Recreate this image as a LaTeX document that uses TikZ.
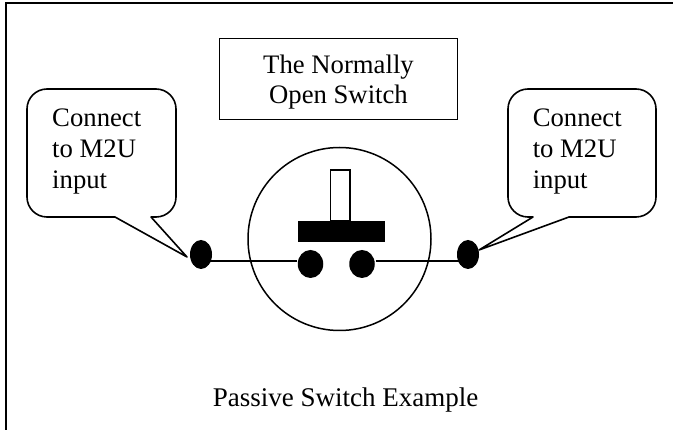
\documentclass[tikz,border=0pt]{standalone}
\usepackage{fontspec}
\setmainfont{Liberation Serif}
\usetikzlibrary{positioning,shapes.geometric}
\begin{document}
\begin{tikzpicture}[x=1pt, y=-1pt, line width=1.5pt,
titlenode/.style={rectangle, draw=black, line width=1.6pt, minimum width=238pt, minimum height=81pt},
titletext/.style={align=center, inner sep=0pt, font=\fontsize{26.7}{30.5}\selectfont},
textnode/.style={align=left, anchor=west, inner sep=0pt, font=\fontsize{26.7}{31}\selectfont},
contactnode/.style={ellipse, fill=black, inner sep=0pt, minimum width=25.5pt, minimum height=28pt},
dotnode/.style={ellipse, fill=black, inner sep=0pt, minimum width=22pt, minimum height=29pt},
callout/.style={draw=black, line width=1.6pt, line join=round},
]
\useasboundingbox (0,0) rectangle (673,430);
%Frame
\node[draw=black, line width=2pt, inner sep=0pt, minimum width=672pt, minimum height=432pt, anchor=north west] (frame) at (5,2.5) {};

%Nodes
\node[titlenode]      (title)      at (338.5,79)  {};
\node[titletext, yshift=-3pt] (titlelabel) at (title.center) {The Normally\\Open Switch};
\node[circle, draw=black, inner sep=0pt, minimum size=183pt] (body) at (339.5,239) {};
\node[dotnode]        (dotL)       at (201,254.5) {};
\node[dotnode]        (dotR)       at (468,254.5) {};
\node[contactnode]    (contactL)   at (310.5,264) {};
\node[contactnode]    (contactR)   at (362,264) {};
\node[fill=black, inner sep=0pt, minimum width=87pt, minimum height=21pt] (bar) at (341,231.2) {};
\node[draw=black, inner sep=0pt, minimum width=19.5pt, minimum height=50.7pt] (stem) at (340.3,195.4) {};
\node[textnode]       (textL)      at (51.5,151.5) {Connect\\to M2U\\input};
\node[textnode]       (textR)      at (532,151.5) {Connect\\to M2U\\input};
\node (caption) at (345.5,400) {\fontsize{27}{30}\selectfont Passive Switch Example};
\coordinate (tipL) at (187,257);
\coordinate (tipR) at (479,250);
\coordinate (railL) at (201,261);
\coordinate (railR) at (468,261);

%Lines
\draw[callout] (tipL) -- (115,217) [rounded corners=20pt] -- (27,217) -- (27,89) -- (176,89) -- (176,217) [sharp corners] -- (151,217) -- cycle;
\draw[callout] (tipR) -- (533,217) [rounded corners=20pt] -- (508,217) -- (508,89) -- (656,89) -- (656,217) [sharp corners] -- (569,217) -- cycle;
\draw[line width=1.8pt] (railL) -- (contactL.west |- railL);
\draw[line width=1.8pt] (contactR.east |- railR) -- (railR);
\end{tikzpicture}
\end{document}
